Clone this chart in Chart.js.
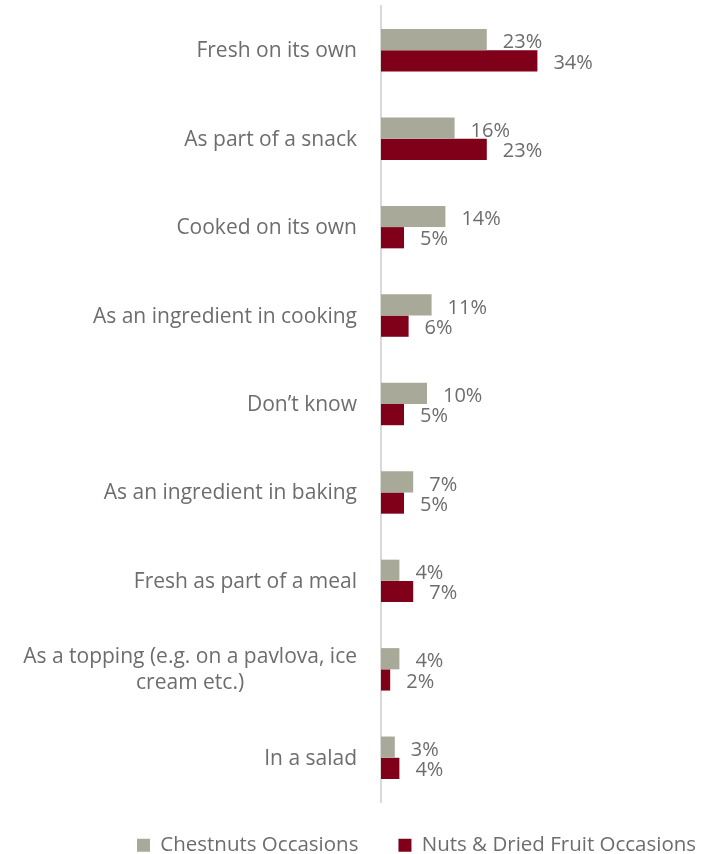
<!DOCTYPE html>
<html>
<head>
<meta charset="utf-8">
<script src="https://cdn.jsdelivr.net/npm/chart.js@4.4.0/dist/chart.umd.min.js"></script>
<style>
  html, body { margin: 0; padding: 0; background: #fff; }
  #wrap { width: 707px; height: 854px; position: relative; }
</style>
</head>
<body>
<div id="wrap"><canvas id="occasions-chart"></canvas></div>
<script>
// data
const categories = [
  ['Fresh on its own'],
  ['As part of a snack'],
  ['Cooked on its own'],
  ['As an ingredient in cooking'],
  ['Don\u2019t know'],
  ['As an ingredient in baking'],
  ['Fresh as part of a meal'],
  ['As a topping (e.g. on a pavlova, ice', 'cream etc.)'],
  ['In a salad']
];
const chestnuts = [23, 16, 14, 11, 10, 7, 4, 4, 3];
const nutsDriedFruit = [34, 23, 5, 6, 5, 5, 7, 2, 4];
const seriesNames = ['Chestnuts Occasions', 'Nuts & Dried Fruit Occasions'];

const textColor = '#6d6d6d';
const fontFamily = '"Open Sans", Lato, sans-serif';

// category labels, right aligned block with centred lines (like the original)
const categoryLabels = {
  id: 'categoryLabels',
  afterDraw(chart) {
    const ctx = chart.ctx;
    const y = chart.scales.y;
    ctx.save();
    ctx.font = '21px ' + fontFamily;
    ctx.fillStyle = textColor;
    ctx.textBaseline = 'middle';
    categories.forEach((lines, i) => {
      const cy = y.getPixelForValue(i);
      const right = 357;
      const widest = Math.max(...lines.map(l => ctx.measureText(l).width));
      const center = right - widest / 2;
      const lh = 26;
      const top = cy - (lines.length - 1) * lh / 2 + 1;
      ctx.textAlign = 'center';
      lines.forEach((l, k) => ctx.fillText(l, center, top + k * lh));
    });
    ctx.restore();
  }
};

// value labels just right of each bar
const valueLabels = {
  id: 'valueLabels',
  afterDatasetsDraw(chart) {
    const ctx = chart.ctx;
    ctx.save();
    ctx.font = '20px ' + fontFamily;
    ctx.fillStyle = textColor;
    ctx.textAlign = 'left';
    ctx.textBaseline = 'middle';
    chart.data.datasets.forEach((ds, di) => {
      chart.getDatasetMeta(di).data.forEach((bar, i) => {
        ctx.fillText(ds.data[i] + '%', bar.x + 16, bar.y + (di === 0 ? 3 : 2));
      });
    });
    ctx.restore();
  }
};

// keep the legend low and a bit right, as in the original
const legendSpot = {
  id: 'legendSpot',
  beforeInit(chart) {
    const fit = chart.legend.fit;
    chart.legend.fit = function () {
      fit.call(this);
      this.height = 52;
    };
  },
  afterLayout(chart) {
    const lg = chart.legend;
    lg.top -= 7;
    lg.bottom = chart.height;
    lg.left = 97;
    lg.right = chart.width + 60;
  }
};

const chart = new Chart(document.getElementById('occasions-chart'), {
  type: 'bar',
  data: {
    labels: categories,
    datasets: [{
      label: seriesNames[0],
      data: chestnuts,
      backgroundColor: '#a9a99a'
    }, {
      label: seriesNames[1],
      data: nutsDriedFruit,
      backgroundColor: '#7f0018'
    }]
  },
  options: {
    indexAxis: 'y',
    responsive: true,
    maintainAspectRatio: false,
    animation: false,
    layout: { padding: { top: 6, right: 4, bottom: 0, left: 0 } },
    datasets: { bar: { categoryPercentage: 0.48, barPercentage: 1 } },
    scales: {
      x: {
        min: 0,
        max: 70,
        display: false
      },
      y: {
        grid: { display: false, drawTicks: false },
        border: { display: true, color: '#d9d9d9', width: 2 },
        ticks: { display: false },
        afterFit(scale) { scale.width = 381; }
      }
    },
    plugins: {
      legend: {
        position: 'bottom',
        align: 'start',
        labels: {
          boxWidth: 13,
          boxHeight: 13,
          padding: 40,
          color: textColor,
          font: { family: fontFamily, size: 20.5 }
        }
      },
      tooltip: { enabled: false }
    }
  },
  plugins: [categoryLabels, valueLabels, legendSpot]
});
</script>
</body>
</html>
